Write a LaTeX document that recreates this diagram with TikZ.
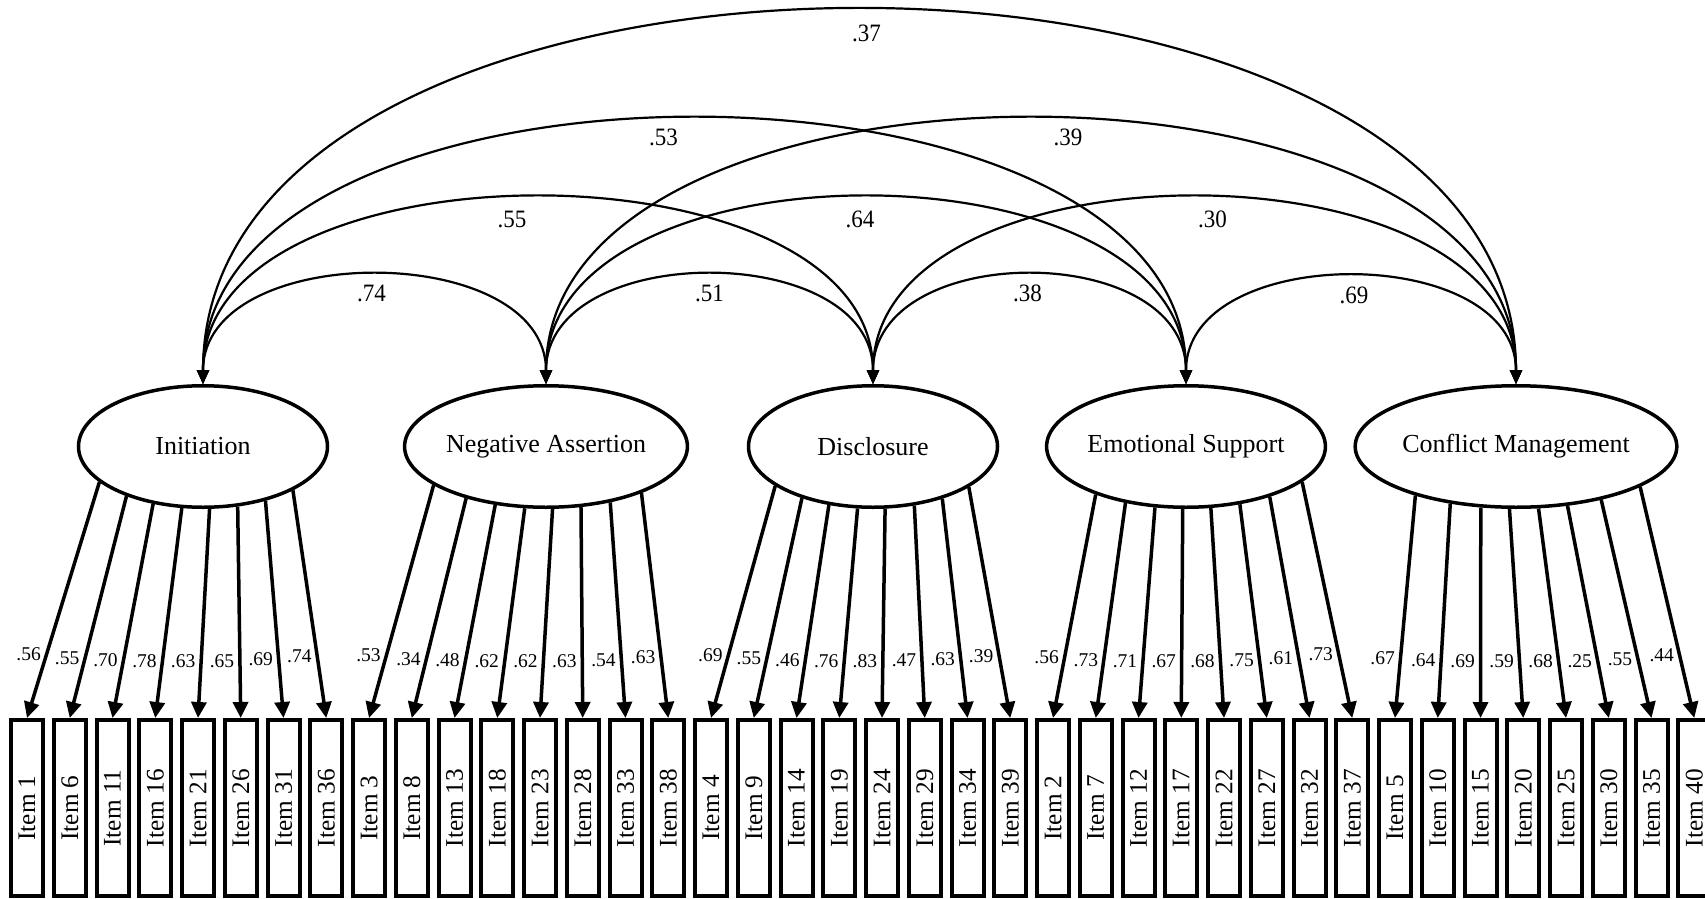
\documentclass[tikz,border=0pt]{standalone}
\usepackage{fontspec}
\setmainfont{Liberation Serif}
\usepackage{graphicx}
\usepackage{tikz}
\usetikzlibrary{shapes.geometric,arrows.meta}
\tikzstyle{latent}=[ellipse,draw=black,fill=white,line width=3.5pt,
                    inner sep=0pt,minimum width=249pt,minimum height=121.5pt,
                    font=\fontsize{26}{30}\selectfont]
\tikzstyle{itembox}=[rectangle,draw=black,fill=white,line width=4pt,
                     inner sep=0pt,minimum width=32pt,minimum height=176pt,
                     font=\fontsize{25.3}{28}\selectfont]
\tikzstyle{loadline}=[line width=3.5pt,-{Triangle[length=16pt,width=15pt]}]
\tikzstyle{covline}=[line width=2.2pt,
                     {Triangle[length=14pt,width=12pt]}-{Triangle[length=14pt,width=12pt]}]
\tikzstyle{loadlbl}=[left,inner sep=4pt,font=\fontsize{19.5}{23}\selectfont]
\tikzstyle{covlbl}=[below,inner sep=8pt,font=\fontsize{25}{28}\selectfont]
\newcommand{\narrow}[1]{\scalebox{0.92}[1]{#1}}

\begin{document}
\begin{tikzpicture}[x=1pt,y=-1pt]
    \useasboundingbox (0,0) rectangle (1705,899);
    % factors
    \node (ini) at (203,446.5)  [latent] {Initiation};
    \node (neg) at (546,446.5)  [latent] {Negative Assertion};
    \node (dis) at (873,446.5)  [latent] {Disclosure};
    \node (emo) at (1186,446.5) [latent] {Emotional Support};
    \node (con) at (1516,446.5) [latent] {Conflict Management};
    % items and loadings
    \foreach \fac/\first/\g/\sh/\vals in {
        ini/1/0/-8/{.56,.55,.70,.78,.63,.65,.69,.74},
        neg/3/1/-8/{.53,.34,.48,.62,.62,.63,.54,.63},
        dis/4/2/-2/{.69,.55,.46,.76,.83,.47,.63,.39},
        emo/2/3/10/{.56,.73,.71,.67,.68,.75,.61,.73},
        con/5/4/7/{.67,.64,.69,.59,.68,.25,.55,.44}} {
      \foreach \lv [count=\j from 0] in \vals {
        \pgfmathtruncatemacro\num{\first+5*\j}
        \pgfmathsetmacro\bx{27+42.75*(8*\g+\j)}
        \node (item\num) at (\bx,808) [itembox] {\rotatebox{90}{Item \num}};
        \pgfmathsetmacro\dx{\sh+27.5*(\j-3.5)}
        \pgfmathsetmacro\ang{atan2(-61*sqrt(1-(\dx/126)^2),\dx)}
        \draw[loadline] (\fac.\ang) -- (item\num.north)
              node[pos=0.73,loadlbl] {\lv};
      }
    }
    % correlations
    \draw[covline] (ini.north) .. controls +(0,-144) and +(0,-144) .. (neg.north)
        node[midway,covlbl,xshift=-3pt] {\narrow{.74}};
    \draw[covline] (neg.north) .. controls +(0,-144) and +(0,-144) .. (dis.north)
        node[midway,covlbl] {\narrow{.51}};
    \draw[covline] (dis.north) .. controls +(0,-144) and +(0,-144) .. (emo.north)
        node[midway,covlbl,xshift=-2pt] {\narrow{.38}};
    \draw[covline] (emo.north) .. controls +(0,-142) and +(0,-142) .. (con.north)
        node[midway,covlbl,xshift=3pt] {\narrow{.69}};
    \draw[covline] (ini.north) .. controls +(0,-247) and +(0,-247) .. (dis.north)
        node[midway,covlbl,xshift=-26pt,yshift=-3pt] {\narrow{.55}};
    \draw[covline] (neg.north) .. controls +(0,-247) and +(0,-247) .. (emo.north)
        node[midway,covlbl,xshift=-6pt,yshift=-3pt] {\narrow{.64}};
    \draw[covline] (dis.north) .. controls +(0,-247) and +(0,-247) .. (con.north)
        node[midway,covlbl,xshift=18pt,yshift=-3pt] {\narrow{.30}};
    \draw[covline] (ini.north) .. controls +(0,-352) and +(0,-352) .. (emo.north)
        node[midway,covlbl,xshift=-31pt] {\narrow{.53}};
    \draw[covline] (neg.north) .. controls +(0,-352) and +(0,-352) .. (con.north)
        node[midway,covlbl,xshift=37pt] {\narrow{.39}};
    \draw[covline] (ini.north) .. controls +(0,-497) and +(0,-497) .. (con.north)
        node[midway,covlbl,xshift=7pt,yshift=-5pt] {\narrow{.37}};
\end{tikzpicture}
\end{document}
